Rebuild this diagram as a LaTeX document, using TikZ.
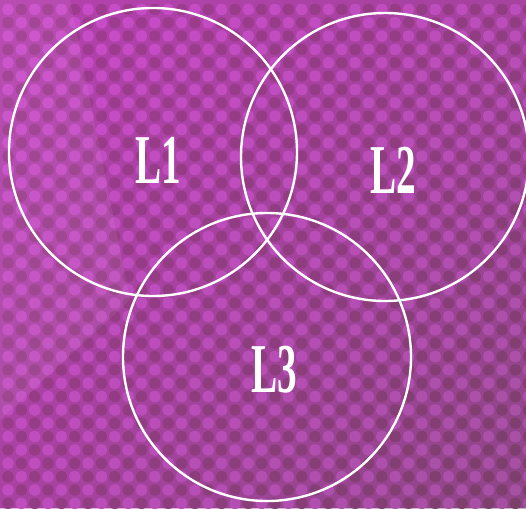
\documentclass[tikz,border=0pt]{standalone}
\usepackage{graphicx}
\usepackage{fontspec}
\setmainfont{Liberation Serif}
\usetikzlibrary{positioning, shadings}
\definecolor{colBase}{RGB}{168,62,158}
\definecolor{colTintLight}{RGB}{200,70,200}
\definecolor{colTintDark}{RGB}{105,82,100}
\definecolor{colDotLight}{RGB}{205,80,205}
\definecolor{colDotDark}{RGB}{135,52,110}
\definecolor{colRing}{RGB}{255,255,255}
\tikzset{
  ring/.style={draw=colRing, line width=2.4pt},
  setLabel/.style={text=colRing, font=\fontsize{70}{70}\selectfont\bfseries, inner sep=0pt},
  dotLight/.style={fill=colDotLight, rounded corners=4.5pt},
  dotDark/.style={fill=colDotDark, rounded corners=4.5pt},
}

\begin{document}
\begin{tikzpicture}[x=1pt, y=-1pt]

% ---- Background -----------------------------------------------
\useasboundingbox (0,0) rectangle (526,508);
\fill[colBase] (0,0) rectangle (526,508);

% ---- Dot pattern ----------------------------------------------
\foreach \i in {0,...,39}{
  \foreach \j in {0,...,38}{
    \pgfmathtruncatemacro{\cellpar}{mod(\i+\j,2)}
    \ifnum\cellpar=0
      \fill[dotLight] (2.4+13.35*\i, 3.8+13.35*\j) rectangle ++(11.2,11.2);
    \else
      \fill[dotDark] (2.4+13.35*\i, 3.8+13.35*\j) rectangle ++(11.2,11.2);
    \fi
  }
}

% ---- Tint -----------------------------------------------------
\shade[opacity=0.4, upper left=colTintLight, upper right=colTintLight!60!colTintDark,
  lower left=colTintLight!70!colTintDark, lower right=colTintDark]
  (0,0) rectangle (526,508);
\fill[white, opacity=0.06] (0,0) -- (70,0) -- (130,300) -- (0,420) -- cycle;

% ---- Sets -----------------------------------------------------
\node[circle, ring, minimum size=288pt, inner sep=0pt] (setA) at (153,152) {};
\node[circle, ring, minimum size=288pt, inner sep=0pt] (setB) at (385,157) {};
\node[circle, ring, minimum size=288pt, inner sep=0pt] (setC) at (267,357) {};

% ---- Labels ---------------------------------------------------
\node[setLabel] (labA) at (158,160) {\scalebox{0.56}[1]{L1}};
\node[setLabel] (labB) at (393,170) {\scalebox{0.56}[1]{L2}};
\node[setLabel] (labC) at (274,370) {\scalebox{0.56}[1]{L3}};

\end{tikzpicture}
\end{document}
